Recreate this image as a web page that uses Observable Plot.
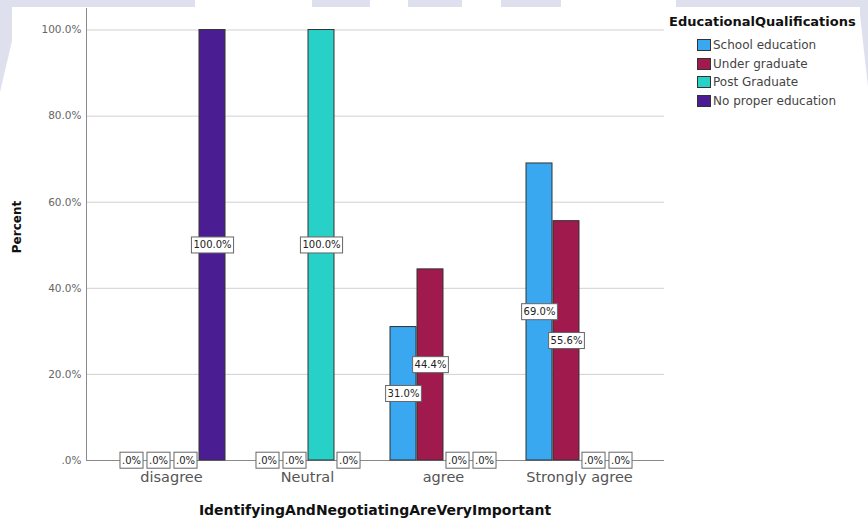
<!DOCTYPE html>
<html>
<head>
<meta charset="utf-8">
<script src="https://cdn.jsdelivr.net/npm/d3@7"></script>
<script src="https://cdn.jsdelivr.net/npm/@observablehq/plot@0.6"></script>
<style>
  html, body { margin: 0; padding: 0; background: #fff; }
  #wrap { position: relative; width: 868px; height: 522px; overflow: hidden; font-family: "DejaVu Sans", sans-serif; }
  .wm { position: absolute; background: #dfe0ee; }
  .layer { position: absolute; left: 0; top: 0; }
  #ytitle { position: absolute; left: 17px; top: 227px; transform: translate(-50%, -50%) rotate(-90deg); font-weight: bold; font-size: 12px; color: #111; white-space: nowrap; }
  #xtitle { position: absolute; left: 375px; top: 510px; transform: translate(-50%, -50%); font-weight: bold; font-size: 14px; color: #111; white-space: nowrap; }
  #legend { position: absolute; left: 669px; top: 14px; font-size: 12px; color: #444; }
  #legend .lt { font-weight: bold; font-size: 13px; line-height: 15px; color: #111; margin-bottom: 6.5px; white-space: nowrap; }
  #legend .row { display: flex; align-items: center; height: 18.7px; margin-left: 28px; white-space: nowrap; }
  #legend .sw { width: 14px; height: 12px; box-sizing: border-box; border: 1px solid #333; margin-right: 2px; }
</style>
</head>
<body>
<div id="wrap">
  <div class="wm" style="left:0;top:0;width:195px;height:7px"></div>
  <div class="wm" style="left:312px;top:0;width:58px;height:7px"></div>
  <div class="wm" style="left:408px;top:0;width:54px;height:7px"></div>
  <div class="wm" style="left:501px;top:0;width:60px;height:7px"></div>
  <div class="wm" style="left:676px;top:0;width:192px;height:7px"></div>
  <div class="wm" style="left:0;top:7px;width:12px;height:85px;clip-path:polygon(0 0,100% 0,100% 40%,0 100%)"></div>
  <div class="wm" style="left:860px;top:7px;width:8px;height:80px;clip-path:polygon(0 0,100% 0,100% 100%,0 10%)"></div>
  <div id="bg" class="layer"></div>
  <div id="fg" class="layer"></div>
  <div id="ytitle">Percent</div>
  <div id="xtitle">IdentifyingAndNegotiatingAreVeryImportant</div>
  <div id="legend"></div>
</div>
<script>
// ---- data ----
const categories = ["disagree", "Neutral", "agree", "Strongly agree"];
const seriesNames = ["School education", "Under graduate", "Post Graduate", "No proper education"];
const schoolEducation   = [0, 0, 31.0, 69.0];
const underGraduate     = [0, 0, 44.4, 55.6];
const postGraduate      = [0, 100.0, 0, 0];
const noProperEducation = [100.0, 0, 0, 0];
const seriesColors = ["#39a8f0", "#a11a4d", "#28d1c7", "#4a1d92"];
const yTicks = [0, 20, 40, 60, 80, 100];
const legendTitle = "EducationalQualifications";

const seriesValues = [schoolEducation, underGraduate, postGraduate, noProperEducation];
const data = [];
seriesNames.forEach((s, i) => categories.forEach((c, j) => data.push({category: c, group: s, value: seriesValues[i][j]})));

const fmt = v => v === 0 ? ".0%" : v.toFixed(1) + "%";

const dims = {width: 868, height: 522, marginLeft: 86, marginRight: 204, marginTop: 8, marginBottom: 62};
const yScale = {domain: [0, 105], axis: null};

// background layer: grid, axis line, y tick labels
const bg = Plot.plot({
  ...dims,
  style: {fontFamily: "DejaVu Sans", background: "transparent", overflow: "visible"},
  y: yScale,
  marks: [
    Plot.ruleY(yTicks.filter(d => d > 0), {stroke: "#d0d0d0", strokeOpacity: 1}),
    Plot.ruleY([0], {stroke: "#8a8a8a"}),
    Plot.frame({anchor: "left", stroke: "#8a8a8a"}),
    Plot.text(yTicks, {y: d => d, text: d => fmt(d), frameAnchor: "left", textAnchor: "end", dx: -5, fontSize: 10.5, fill: "#666"})
  ]
});
document.getElementById("bg").appendChild(bg);

// foreground layer: grouped bars + value labels
const fg = Plot.plot({
  ...dims,
  style: {fontFamily: "DejaVu Sans", background: "transparent", overflow: "visible"},
  fx: {domain: categories, paddingInner: 0, paddingOuter: 0.114, label: null},
  x: {domain: seriesNames, paddingInner: 0.055, paddingOuter: 0.51, axis: null},
  y: yScale,
  color: {domain: seriesNames, range: seriesColors},
  marks: [
    Plot.axisFx({anchor: "bottom", tickSize: 0, tickPadding: 11, fontSize: 14.5, fill: "#555", label: null}),
    Plot.barY(data.filter(d => d.value > 0), {fx: "category", x: "group", y: "value", fill: "group", stroke: "#333", strokeWidth: 1}),
    Plot.text(data, {fx: "category", x: "group", y: d => d.value / 2, text: d => fmt(d.value), fontSize: 10, fill: "#222", ariaDescription: "vlabel"})
  ]
});
document.getElementById("fg").appendChild(fg);

// white boxes behind the value labels
fg.querySelectorAll('[aria-description="vlabel"] text').forEach(t => {
  const bb = t.getBBox();
  const r = document.createElementNS("http://www.w3.org/2000/svg", "rect");
  r.setAttribute("x", bb.x - 2);
  r.setAttribute("y", bb.y - 2.5);
  r.setAttribute("width", bb.width + 4);
  r.setAttribute("height", bb.height + 5);
  r.setAttribute("fill", "#fff");
  r.setAttribute("stroke", "#666");
  r.setAttribute("stroke-width", "1");
  const tr = t.getAttribute("transform");
  if (tr) r.setAttribute("transform", tr);
  t.parentNode.insertBefore(r, t);
});

// legend
const lg = document.getElementById("legend");
const lt = document.createElement("div");
lt.className = "lt"; lt.textContent = legendTitle; lg.appendChild(lt);
seriesNames.forEach((s, i) => {
  const row = document.createElement("div"); row.className = "row";
  const sw = document.createElement("div"); sw.className = "sw"; sw.style.background = seriesColors[i];
  const tx = document.createElement("span"); tx.textContent = s;
  row.appendChild(sw); row.appendChild(tx); lg.appendChild(row);
});
</script>
</body>
</html>
